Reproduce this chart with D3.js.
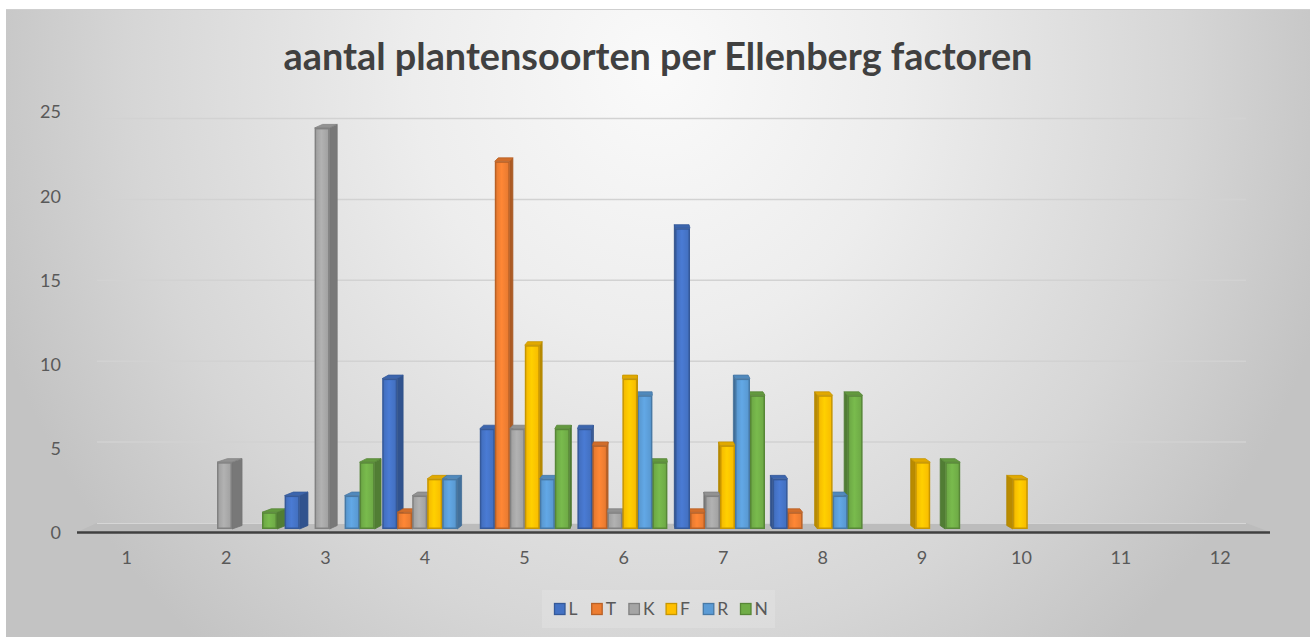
<!DOCTYPE html>
<html>
<head>
<meta charset="utf-8">
<script src="https://cdn.jsdelivr.net/npm/d3@7"></script>
<style>
  html, body { margin: 0; padding: 0; background: #ffffff; }
  svg { display: block; }
  text { font-family: Lato, "Open Sans", "Liberation Sans", sans-serif; }
</style>
</head>
<body>
<svg id="chart" width="1316" height="639"></svg>
<script>
// ---- data ----
const categories = ["1","2","3","4","5","6","7","8","9","10","11","12"];
const seriesNames = ["L","T","K","F","R","N"];
const L = [0,0,2,9,6,6,18,3,0,0,0,0];
const T = [0,0,0,1,22,5,1,1,0,0,0,0];
const K = [0,4,24,2,6,1,2,0,0,0,0,0];
const F = [0,0,0,3,11,9,5,8,4,3,0,0];
const R = [0,0,2,3,3,8,9,2,0,0,0,0];
const N = [0,1,4,0,6,4,8,8,4,0,0,0];
const yTicks = [0,5,10,15,20,25];
const seriesValues = [L,T,K,F,R,N];
const seriesColors = ["#4472C4","#ED7D31","#A5A5A5","#FFC000","#5B9BD5","#70AD47"];
const titleText = "aantal plantensoorten per Ellenberg factoren";

const svg = d3.select("#chart");
const defs = svg.append("defs");

// background radial gradient (elliptical, user space)
const bg = defs.append("radialGradient").attr("id","bgGrad")
  .attr("gradientUnits","userSpaceOnUse")
  .attr("cx",0).attr("cy",0).attr("r",1)
  .attr("gradientTransform","translate(658,70) scale(700,760)");
bg.append("stop").attr("offset","0%").attr("stop-color","#fafafa");
bg.append("stop").attr("offset","35%").attr("stop-color","#ededed");
bg.append("stop").attr("offset","75%").attr("stop-color","#d6d6d6");
bg.append("stop").attr("offset","100%").attr("stop-color","#c3c3c3");

svg.append("rect").attr("x",6).attr("y",9).attr("width",1304).attr("height",628)
  .attr("fill","url(#bgGrad)");
svg.append("line").attr("x1",6).attr("x2",1310).attr("y1",9.5).attr("y2",9.5)
  .attr("stroke","#cfcfcf").attr("stroke-width",1);

// scales
const xAxis = d3.scaleBand().domain(categories).range([77,1270]);
const xBar = d3.scalePoint().domain(categories).range([134.4,1208]);
const xSub = d3.scaleBand().domain(seriesNames).range([-45,45]);
const yBar = d3.scaleLinear().domain([0,25]).range([529,111.2]);
const yLabel = d3.scaleLinear().domain([0,25]).range([533,112]);
const yWall = d3.scaleLinear().domain([0,25]).range([523,118.5]);

// gridlines on back wall
svg.append("g").selectAll("line").data(yTicks.filter(d => d > 0)).join("line")
  .attr("x1",97).attr("x2",1246)
  .attr("y1",d => yWall(d)).attr("y2",d => yWall(d))
  .attr("stroke","#d2d2d2").attr("stroke-width",1.5);

// floor
svg.append("path")
  .attr("d",`M77,${yWall(0)+9} L97,${yWall(0)} L1246,${yWall(0)} L1270,${yWall(0)+9} Z`)
  .attr("fill","#bcbcbc");
svg.append("line").attr("x1",97).attr("x2",1246).attr("y1",yWall(0)+0.5).attr("y2",yWall(0)+0.5)
  .attr("stroke","#d6d6d6").attr("stroke-width",1);

// bars (simple perspective: depth faces shift toward a vanishing x)
const vpX = 633, dy = 3.5;
function depthDx(x) {
  const d = vpX - x;
  return d > 0 ? d * 0.025 : d * 0.016;
}
const bw = xSub.bandwidth();
seriesColors.forEach((c,i) => {
  const g = defs.append("linearGradient").attr("id","fg"+i).attr("x1","0%").attr("x2","100%");
  const base = d3.color(c);
  g.append("stop").attr("offset","0%").attr("stop-color",base.darker(0.12));
  g.append("stop").attr("offset","45%").attr("stop-color",base.brighter(0.22));
  g.append("stop").attr("offset","100%").attr("stop-color",base.darker(0.08));
});

const bars = [];
categories.forEach((cat,ci) => {
  seriesNames.forEach((s,si) => {
    const v = seriesValues[si][ci];
    if (v > 0) {
      const x0 = xBar(cat) + xSub(s);
      bars.push({cat, s, si, v, x0, mid: x0 + bw/2});
    }
  });
});
// painter's order: farthest from vanishing x first
bars.sort((a,b) => Math.abs(b.mid - vpX) - Math.abs(a.mid - vpX));

const barG = svg.append("g");
bars.forEach(b => {
  const x0 = b.x0, x1 = x0 + bw;
  const yT = yBar(b.v), yB = yBar(0);
  const col = d3.color(seriesColors[b.si]);
  const edge = col.darker(0.7);
  const g = barG.append("g");
  const right = b.mid < vpX;
  const xe = right ? x1 : x0;           // visible side edge
  const dxs = depthDx(xe);
  const dx0 = depthDx(x0), dx1 = depthDx(x1);
  // side face
  g.append("path")
    .attr("d",`M${xe},${yB} L${xe+dxs},${yB-dy} L${xe+dxs},${yT-dy} L${xe},${yT} Z`)
    .attr("fill",col.darker(0.9)).attr("stroke",edge.darker(0.3)).attr("stroke-width",0.8);
  // top face
  g.append("path")
    .attr("d",`M${x0},${yT} L${x0+dx0},${yT-dy} L${x1+dx1},${yT-dy} L${x1},${yT} Z`)
    .attr("fill",col.darker(0.35)).attr("stroke",edge).attr("stroke-width",0.8);
  // front face
  g.append("rect")
    .attr("x",x0+0.75).attr("y",yT+0.75).attr("width",bw-1.5).attr("height",Math.max(0,yB-yT-1.5))
    .attr("fill",`url(#fg${b.si})`).attr("stroke",edge).attr("stroke-width",1.5);
});

// axis line
svg.append("line").attr("x1",77).attr("x2",1270).attr("y1",532.5).attr("y2",532.5)
  .attr("stroke","#404040").attr("stroke-width",2.5);

// y labels
svg.append("g").selectAll("text").data(yTicks).join("text")
  .attr("x",61).attr("y",d => yLabel(d)).attr("dy","0.35em")
  .attr("text-anchor","end").attr("font-size",18).attr("fill","#595959")
  .text(d => d);

// x labels
svg.append("g").selectAll("text").data(categories).join("text")
  .attr("x",d => xAxis(d) + xAxis.bandwidth()/2).attr("y",558).attr("dy","0.35em")
  .attr("text-anchor","middle").attr("font-size",18).attr("fill","#595959")
  .text(d => d);

// title
const title = svg.append("text").attr("x",658).attr("y",70)
  .attr("text-anchor","middle").attr("font-weight","bold").attr("font-size",32)
  .attr("fill","#404040").text(titleText);
const tw = title.node().getComputedTextLength();
title.attr("font-size", 32 * 749 / tw);

// legend
svg.append("rect").attr("x",542).attr("y",590).attr("width",233).attr("height",38)
  .attr("fill","#ffffff").attr("opacity",0.15);
const lx = d3.scalePoint().domain(seriesNames).range([554,740]);
const leg = svg.append("g").selectAll("g").data(seriesNames).join("g")
  .attr("transform",d => `translate(${lx(d)},609)`);
leg.append("rect").attr("x",0.5).attr("y",-5.5).attr("width",10.5).attr("height",11)
  .attr("fill",(d,i) => seriesColors[i])
  .attr("stroke",(d,i) => d3.color(seriesColors[i]).darker(0.7)).attr("stroke-width",1.3);
leg.append("text").attr("x",14.5).attr("y",0).attr("dy","0.36em")
  .attr("font-size",17.5).attr("fill","#595959").text(d => d);
</script>
</body>
</html>
